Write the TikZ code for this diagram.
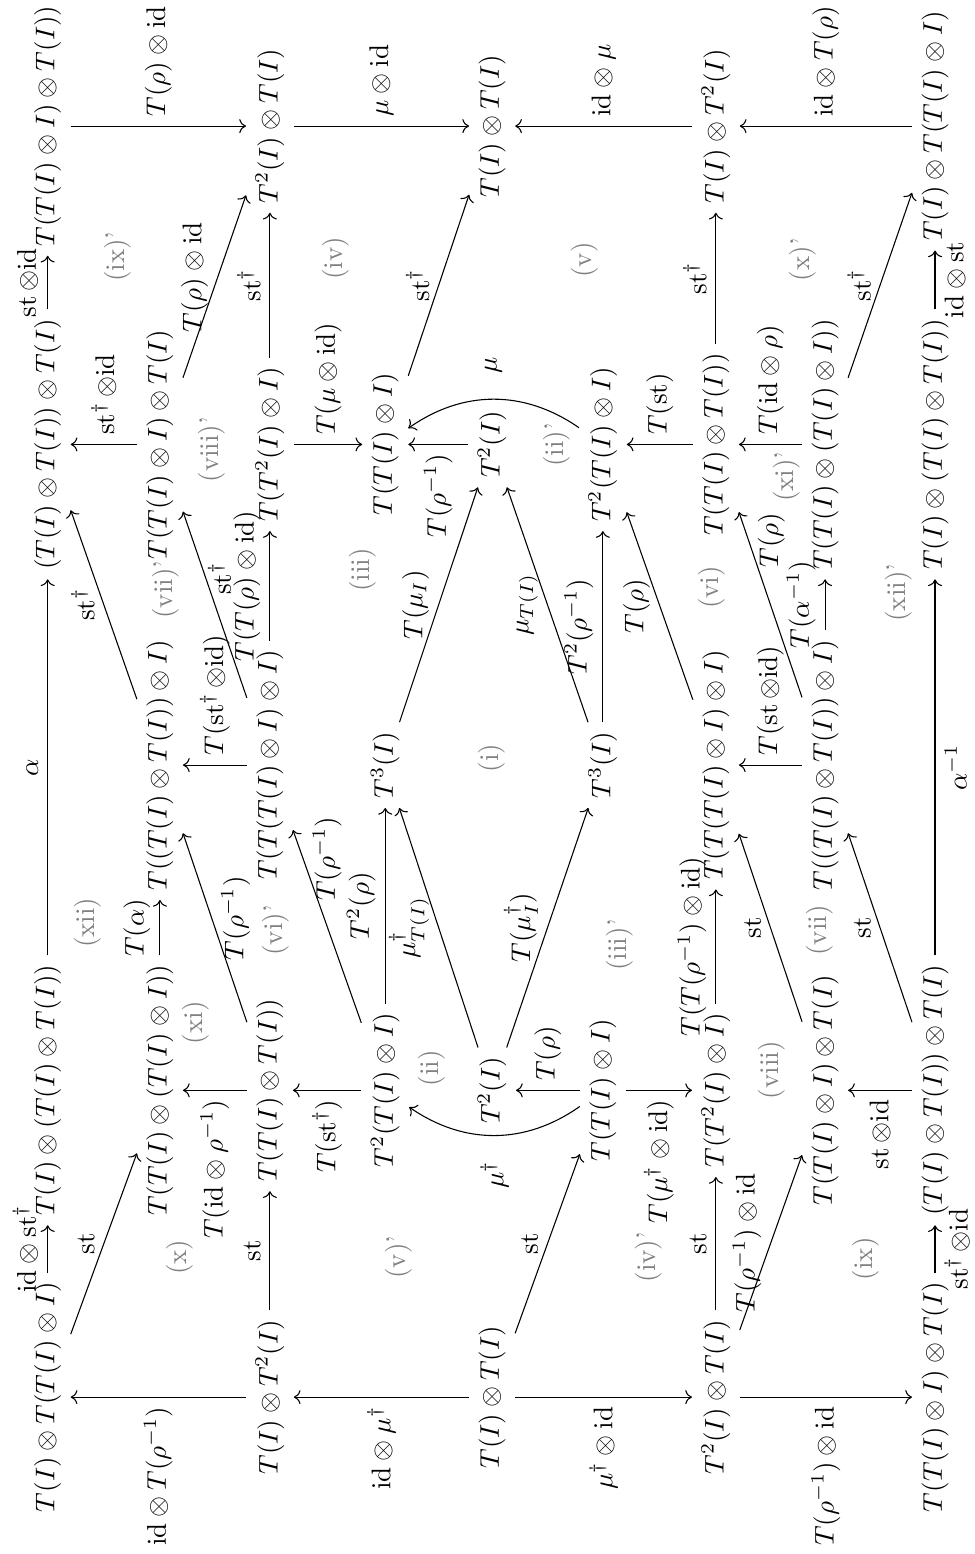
\documentclass[tikz,border=0pt]{standalone}
\usepackage{amsmath,amssymb}
\usepackage{xcolor}
\usepackage{tikz}
\usetikzlibrary{arrows.meta}
\newcommand{\stmap}{\operatorname{st}}
\newcommand{\idmap}{\mathrm{id}}
\tikzset{
  obj/.style={inner sep=3.33pt},
  region/.style={text=gray},
}

\begin{document}
\begin{tikzpicture}[rotate=90,transform shape,>=To]
  \useasboundingbox (0,0) rectangle (20.21,-12.67);
  % objects, row by row
  \node[obj] (a1) at (2.04,-0.62) {$T(I)\otimes T(T(I)\otimes I)$};
  \node[obj] (a2) at (6.03,-0.62) {$T(I)\otimes(T(I)\otimes T(I))$};
  \node[obj] (a3) at (14.43,-0.62) {$(T(I)\otimes T(I))\otimes T(I)$};
  \node[obj] (a4) at (18.57,-0.62) {$T(T(I)\otimes I)\otimes T(I))$};
  \node[obj] (b2) at (6.03,-2.08) {$T(T(I)\otimes(T(I)\otimes I))$};
  \node[obj] (b3) at (10.26,-2.08) {$T((T(I)\otimes T(I))\otimes I)$};
  \node[obj] (b4) at (14.43,-2.08) {$T(T(I)\otimes I)\otimes T(I)$};
  \node[obj] (c1) at (2.04,-3.51) {$T(I)\otimes T^2(I)$};
  \node[obj] (c2) at (6.03,-3.51) {$T(T(I)\otimes T(I))$};
  \node[obj] (c3) at (10.26,-3.51) {$T(T(T(I)\otimes I)\otimes I)$};
  \node[obj] (c4) at (14.43,-3.51) {$T(T^2(I)\otimes I)$};
  \node[obj] (c5) at (18.57,-3.51) {$T^2(I)\otimes T(I)$};
  \node[obj] (d2) at (6.03,-5.01) {$T^2(T(I)\otimes I)$};
  \node[obj] (d3) at (10.26,-5.01) {$T^3(I)$};
  \node[obj] (d4) at (14.43,-5.01) {$T(T(I)\otimes I)$};
  \node[obj] (e1) at (2.04,-6.40) {$T(I)\otimes T(I)$};
  \node[obj] (e2) at (6.03,-6.40) {$T^2(I)$};
  \node[obj] (e4) at (14.43,-6.40) {$T^2(I)$};
  \node[obj] (e5) at (18.57,-6.40) {$T(I)\otimes T(I)$};
  \node[obj] (f2) at (6.03,-7.84) {$T(T(I)\otimes I)$};
  \node[obj] (f3) at (10.26,-7.84) {$T^3(I)$};
  \node[obj] (f4) at (14.43,-7.84) {$T^2(T(I)\otimes I)$};
  \node[obj] (g1) at (2.04,-9.31) {$T^2(I)\otimes T(I)$};
  \node[obj] (g2) at (6.03,-9.31) {$T(T^2(I)\otimes I)$};
  \node[obj] (g3) at (10.26,-9.31) {$T(T(T(I)\otimes I)\otimes I)$};
  \node[obj] (g4) at (14.43,-9.31) {$T(T(I)\otimes T(I))$};
  \node[obj] (g5) at (18.57,-9.31) {$T(I)\otimes T^2(I)$};
  \node[obj] (h2) at (6.03,-10.73) {$T(T(I)\otimes I)\otimes T(I)$};
  \node[obj] (h3) at (10.26,-10.73) {$T((T(I)\otimes T(I))\otimes I)$};
  \node[obj] (h4) at (14.43,-10.73) {$T(T(I)\otimes(T(I)\otimes I))$};
  \node[obj] (i1) at (2.04,-12.16) {$T(T(I)\otimes I)\otimes T(I)$};
  \node[obj] (i2) at (6.03,-12.16) {$(T(I)\otimes T(I))\otimes T(I)$};
  \node[obj] (i3) at (14.43,-12.16) {$T(I)\otimes(T(I)\otimes T(I))$};
  \node[obj] (i4) at (18.57,-12.16) {$T(I)\otimes T(T(I)\otimes I)$};
  % horizontal maps
  \draw[->] (a1) -- node[above] {$\idmap\otimes\stmap^\dagger$} (a2);
  \draw[->] (a2) -- node[above] {$\alpha$} (a3);
  \draw[->] (a3) -- node[above] {$\stmap\otimes\idmap$} (a4);
  \draw[->] (b2) -- node[above] {$T(\alpha)$} (b3);
  \draw[->] (c1) -- node[above] {$\stmap$} (c2);
  \draw[->] (c3) -- node[above] {$T(T(\rho)\otimes\idmap)$} (c4);
  \draw[->] (c4) -- node[above] {$\stmap^\dagger$} (c5);
  \draw[->] (d2) -- node[above] {$T^2(\rho)$} (d3);
  \draw[->] (f3) -- node[above] {$T^2(\rho^{-1})$} (f4);
  \draw[->] (g1) -- node[above] {$\stmap$} (g2);
  \draw[->] (g2) -- node[above] {$T(T(\rho^{-1})\otimes\idmap)$} (g3);
  \draw[->] (g4) -- node[above] {$\stmap^\dagger$} (g5);
  \draw[->] (h3) -- node[above] {$T(\alpha^{-1})$} (h4);
  \draw[->] (i1) -- node[below] {$\stmap^\dagger\otimes\idmap$} (i2);
  \draw[->] (i2) -- node[below] {$\alpha^{-1}$} (i3);
  \draw[->] (i3) -- node[below] {$\idmap\otimes\stmap$} (i4);
  % vertical maps
  \draw[->] (c1) -- node[left] {$\idmap\otimes T(\rho^{-1})$} (a1);
  \draw[->] (e1) -- node[left] {$\idmap\otimes\mu^\dagger$} (c1);
  \draw[->] (e1) -- node[left] {$\mu^\dagger\otimes\idmap$} (g1);
  \draw[->] (g1) -- node[left] {$T(\rho^{-1})\otimes\idmap$} (i1);
  \draw[->] (c2) -- node[left] {$T(\idmap\otimes\rho^{-1})$} (b2);
  \draw[->] (d2) -- node[left] {$T(\stmap^\dagger)$} (c2);
  \draw[->] (f2) -- node[right] {$T(\rho)$} (e2);
  \draw[->] (f2) to[bend left=35] node[left=6pt] {$\mu^\dagger$} (d2);
  \draw[->] (f2) -- node[left] {$T(\mu^\dagger\otimes\idmap)$} (g2);
  \draw[->] (i2) -- node[left] {$\stmap\otimes\idmap$} (h2);
  \draw[->] (c3) -- node[right] {$T(\stmap^\dagger\otimes\idmap)$} (b3);
  \draw[->] (h3) -- node[right] {$T(\stmap\otimes\idmap)$} (g3);
  \draw[->] (b4) -- node[right] {$\stmap^\dagger\otimes\idmap$} (a3);
  \draw[->] (c4) -- node[right] {$T(\mu\otimes\idmap)$} (d4);
  \draw[->] (e4) -- node[left] {$T(\rho^{-1})$} (d4);
  \draw[->] (f4) to[bend right=35] node[right=6pt] {$\mu$} (d4);
  \draw[->] (g4) -- node[right] {$T(\stmap)$} (f4);
  \draw[->] (h4) -- node[right] {$T(\idmap\otimes\rho)$} (g4);
  \draw[->] (a4) -- node[right] {$T(\rho)\otimes\idmap$} (c5);
  \draw[->] (c5) -- node[right] {$\mu\otimes\idmap$} (e5);
  \draw[->] (g5) -- node[right] {$\idmap\otimes\mu$} (e5);
  \draw[->] (i4) -- node[right] {$\idmap\otimes T(\rho)$} (g5);
  % diagonal maps
  \draw[->] (a1) -- node[above] {$\stmap$} (b2);
  \draw[->] (b3) -- node[above] {$\stmap^\dagger$} (a3);
  \draw[->] (c2) -- node[pos=0.55,below] {$T(\rho^{-1})$} (b3);
  \draw[->] (c3) -- node[pos=0.64,below,inner sep=0.5pt] {$\stmap^\dagger$} (b4);
  \draw[->] (b4) -- node[pos=0.55,above] {$T(\rho)\otimes\idmap$} (c5);
  \draw[->] (d4) -- node[above] {$\stmap^\dagger$} (e5);
  \draw[->] (d3) -- node[above] {$T(\mu_I)$} (e4);
  \draw[->] (f3) -- node[above] {$\mu_{T(I)}$} (e4);
  \draw[->] (g3) -- node[above] {$T(\rho)$} (f4);
  \draw[->] (h3) -- node[pos=0.85,below] {$T(\rho)$} (g4);
  \draw[->] (e2) -- node[above] {$\mu^\dagger_{T(I)}$} (d3);
  \draw[->] (e2) -- node[above] {$T(\mu^\dagger_I)$} (f3);
  \draw[->] (d2) -- node[pos=0.85,below] {$T(\rho^{-1})$} (c3);
  \draw[->] (h2) -- node[above] {$\stmap$} (g3);
  \draw[->] (i2) -- node[above] {$\stmap$} (h3);
  \draw[->] (g1) -- node[above] {$T(\rho^{-1})\otimes\idmap$} (h2);
  \draw[->] (h4) -- node[above] {$\stmap^\dagger$} (i4);
  \draw[->] (e1) -- node[above] {$\stmap$} (f2);
  % names of the cells
  \node[region] (r1) at (10.35,-6.40) {(i)};
  \node[region] (r2) at (6.32,-5.62) {(ii)};
  \node[region] (r2p) at (14.42,-7.24) {(ii)'};
  \node[region] (r3) at (12.80,-4.72) {(iii)};
  \node[region] (r3p) at (7.92,-8.06) {(iii)'};
  \node[region] (r4) at (16.85,-4.36) {(iv)};
  \node[region] (r4p) at (3.86,-8.44) {(iv)'};
  \node[region] (r5) at (16.83,-7.61) {(v)};
  \node[region] (r5p) at (3.86,-5.18) {(v)'};
  \node[region] (r6) at (12.57,-9.25) {(vi)};
  \node[region] (r6p) at (8.11,-3.58) {(vi)'};
  \node[region] (r7) at (8.11,-10.66) {(vii)};
  \node[region] (r7p) at (12.54,-2.15) {(vii)'};
  \node[region] (r8) at (6.29,-10.04) {(viii)};
  \node[region] (r8p) at (14.36,-2.76) {(viii)'};
  \node[region] (r9) at (3.84,-11.26) {(ix)};
  \node[region] (r9p) at (16.87,-1.53) {(ix)'};
  \node[region] (r10) at (3.86,-2.34) {(x)};
  \node[region] (r10p) at (16.83,-10.44) {(x)'};
  \node[region] (r11) at (6.91,-2.55) {(xi)};
  \node[region] (r11p) at (14.01,-10.23) {(xi)'};
  \node[region] (r12) at (8.21,-1.14) {(xii)};
  \node[region] (r12p) at (12.50,-11.69) {(xii)'};
\end{tikzpicture}
\end{document}
